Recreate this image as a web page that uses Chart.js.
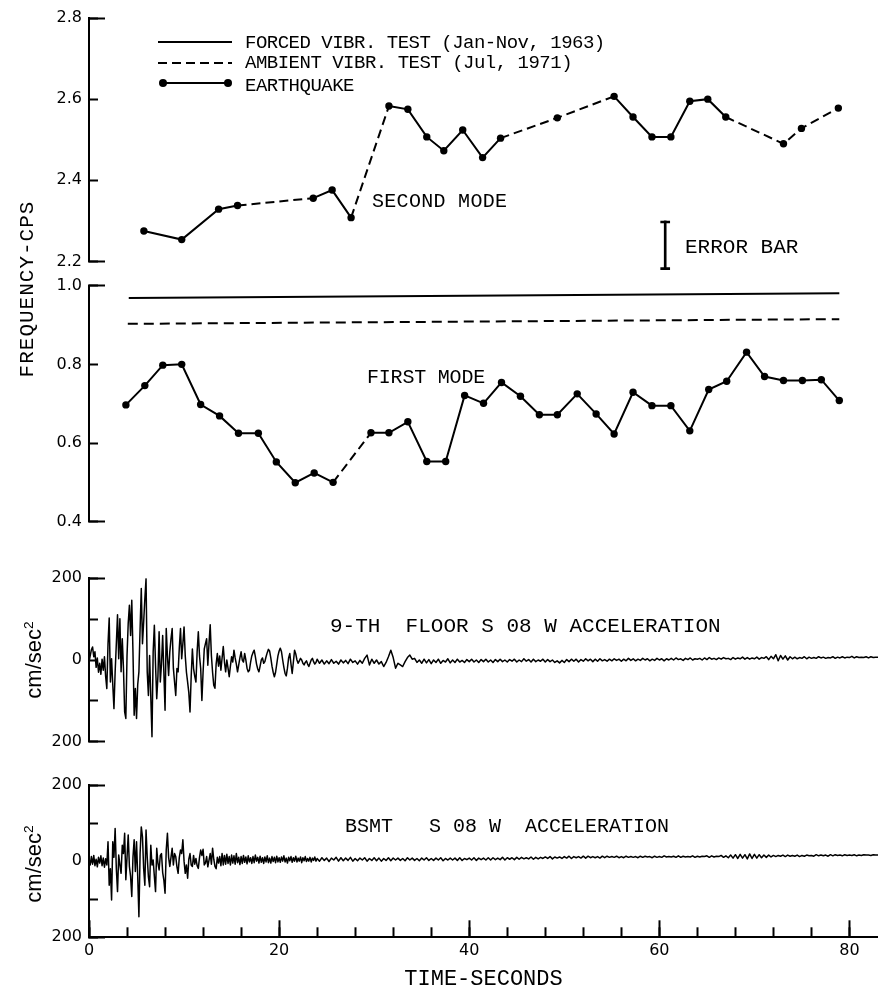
<!DOCTYPE html>
<html><head><meta charset="utf-8">
<script src="https://cdn.jsdelivr.net/npm/chart.js@4.4.1/dist/chart.umd.min.js"></script>
<style>
html,body{margin:0;padding:0;background:#fff;}
#wrap{position:relative;width:878px;height:992px;overflow:hidden;background:#fff;}
canvas{position:absolute;left:0;top:0;}
.t{position:absolute;font-family:'Liberation Mono','DejaVu Sans Mono',monospace;color:#000;white-space:pre;line-height:1;transform:translateY(-50%);}
.r{position:absolute;white-space:pre;line-height:1;color:#000;transform:translate(-50%,-50%) rotate(-90deg);}
.r sup{font-size:0.62em;vertical-align:0.6em;line-height:0;}
.ln{position:absolute;height:2px;background:#000;}
.dot{position:absolute;width:8px;height:8px;border-radius:50%;background:#000;}
</style></head><body>
<div id="wrap">
<canvas id="cU" width="878" height="992"></canvas>
<canvas id="cL" width="878" height="992"></canvas>
<canvas id="cA1" width="878" height="992"></canvas>
<canvas id="cA2" width="878" height="992"></canvas>

<div class="ln" style="left:158px;top:41px;width:74px;"></div>
<div class="ln" style="left:158px;top:62px;width:74px;background:repeating-linear-gradient(to right,#000 0 9px,transparent 9px 14px);"></div>
<div class="ln" style="left:163px;top:82px;width:65px;"></div>
<div class="dot" style="left:159px;top:79px;"></div>
<div class="dot" style="left:224px;top:79px;"></div>
<div class="t" style="left:245px;top:43px;font-size:19px;letter-spacing:-0.5px;">FORCED VIBR. TEST (Jan-Nov, 1963)</div>
<div class="t" style="left:245px;top:63px;font-size:19px;letter-spacing:-0.5px;">AMBIENT VIBR. TEST (Jul, 1971)</div>
<div class="t" style="left:245px;top:86px;font-size:19px;letter-spacing:-0.5px;">EARTHQUAKE</div>
<div class="t" style="left:372px;top:202px;font-size:20px;letter-spacing:0.3px;">SECOND MODE</div>
<div class="t" style="left:685px;top:247px;font-size:21px;">ERROR BAR</div>
<div class="t" style="left:367px;top:378px;font-size:20px;letter-spacing:-0.2px;">FIRST MODE</div>
<div class="t" style="left:330px;top:626px;font-size:21px;">9-TH  FLOOR S 08 W ACCELERATION</div>
<div class="t" style="left:345px;top:827px;font-size:20px;">BSMT   S 08 W  ACCELERATION</div>
<div class="r" style="left:27px;top:289px;font-size:21px;letter-spacing:1px;font-family:'Liberation Mono','DejaVu Sans Mono',monospace;">FREQUENCY-CPS</div>
<div class="r" style="left:34px;top:660px;font-size:22px;font-family:'Liberation Sans',Arial,sans-serif;">cm/sec<sup>2</sup></div>
<div class="r" style="left:34px;top:864px;font-size:22px;font-family:'Liberation Sans',Arial,sans-serif;">cm/sec<sup>2</sup></div>
</div>
<script>
// ---------------- DATA ----------------
const secondModeTime = [5.8,9.8,13.7,15.7,23.7,25.7,27.7,31.7,33.7,35.7,37.5,39.5,41.6,43.5,49.5,55.5,57.5,59.5,61.5,63.5,65.4,67.3,73.4,75.3,79.2];
const secondModeFreq = [2.275,2.254,2.329,2.338,2.356,2.376,2.308,2.583,2.575,2.507,2.473,2.524,2.456,2.504,2.554,2.607,2.556,2.507,2.507,2.595,2.600,2.556,2.490,2.528,2.578];
const secondModeDashedAfter = [3,6,13,14,21,22,23];

const firstModeTime = [3.9,5.9,7.8,9.8,11.8,13.8,15.8,17.9,19.8,21.8,23.8,25.8,29.8,31.7,33.7,35.7,37.7,39.7,41.7,43.6,45.6,47.6,49.5,51.6,53.6,55.5,57.5,59.5,61.5,63.5,65.5,67.4,69.5,71.4,73.4,75.4,77.4,79.3];
const firstModeFreq = [0.697,0.746,0.798,0.800,0.698,0.669,0.625,0.625,0.552,0.499,0.524,0.500,0.626,0.626,0.654,0.553,0.553,0.721,0.701,0.754,0.719,0.672,0.672,0.725,0.674,0.623,0.729,0.695,0.695,0.631,0.736,0.757,0.831,0.769,0.759,0.759,0.761,0.708];
const firstModeDashedAfter = [11];

const forcedVibrTime = [4.2, 79.3];
const forcedVibrFreq = [0.969, 0.981];
const ambientVibrTime = [4.1, 79.3];
const ambientVibrFreq = [0.903, 0.915];

const errorBarTime = [60.9];
const errorBarRange = [[2.18, 2.30]];

const freqUpperTicks = [2.2, 2.4, 2.6, 2.8];
const freqLowerTicks = [0.4, 0.6, 0.8, 1.0];
const accTicks = [-200, -100, 0, 100, 200];
const accLabelled = [-200, 0, 200];
const timeTicks = [0,4,8,12,16,20,24,28,32,36,40,44,48,52,56,60,64,68,72,76,80];
const timeLabels = [0, 20, 40, 60, 80];

// acceleration records: early part sampled every 0.125 s from t = 0, late part every 0.25 s from t = 24.25
const EARLY_STEP = 0.125, LATE_START = 24.25, LATE_STEP = 0.25;
const floor9Early = [
-5,10,25,32,8,20,-18,5,
-30,-8,-35,2,-25,8,-40,-70,
40,103,-54,3,-60,-119,-29,40,
111,3,101,-29,52,-20,-127,-143,
11,90,134,60,146,20,-135,-70,
-143,-60,-29,77,175,40,93,150,
199,-29,-87,11,-90,-188,20,85,
-13,-95,-40,69,-54,-10,60,-30,
-123,77,10,-38,20,52,77,-20,
-54,-87,-21,-29,30,77,3,40,
81,10,-30,-54,-80,-127,-40,27,
-21,-40,-54,20,69,10,-21,-99,
-30,27,40,52,-13,40,86,11,
-30,-62,-69,-10,16,-15,10,-25,
5,33,-5,-29,0,-20,-41,-15,
8,-5,24,5,-10,-29,-12,5,
20,0,-5,16,0,-20,-29,-25,
-5,10,18,24,8,-10,-22,-29,
-15,0,5,-8,-4,8,18,26,
22,5,-15,-30,-41,-30,-10,10,
22,29,20,0,-18,-33,-39,-20,
5,16,-10,-33,-5,24,15,0,
-8,-2,4,0,-8,-12,-6,-2,
-10,-16,-8,0,4,-4,-10,-6,
2];
const floor9Late = [
-8,0,-10,-2, -9,1,-8,-3, -10,0,-7,-1, -9,2,-6,-2, -10,-1,-8,4,
12,-12,2,-8, 0,-10,-4,-16, -6,8,24,6, -20,-8,-12,-16, -4,6,12,2,
4,-6,0,-8, 2,-7,1,-9, 0,-6,2,-8, -1,-5,3,-7, 0,-6,2,-5,
-1,-6,1,-4, 2,-5,0,-6, 1,-4,2,-5, 0,-6,1,-4, 2,-4,0,-5,
1,-3,2,-5, 0,-4,3,-3, 1,-5,2,-4, 0,-3,2,-5, 1,-4,0,-6,
-2,-7,-1,-6, 1,-4,2,-3, 2,-5,1,-3, 3,-2,2,-4, 2,-3,3,-2,
1,-3,2,-2, 3,-1,2,-3, 2,-2,4,-1, 3,-2,2,-1, 4,0,3,-2,
2,-1,4,0, 3,-2,3,0, 4,0,5,1, 3,-1,4,1, 5,0,3,2,
4,0,5,1, 6,2,4,1, 5,2,6,3, 4,1,6,2, 5,3,7,2,
6,2,5,3, 7,2,6,4, 8,1,9,3, 13,-2,11,2, 10,0,8,3,
7,3,6,4, 8,3,7,4, 6,4,8,5, 7,4,6,5, 8,4,7,5,
8,5,7,6, 9,5,8,6, 7,6,8,5, 8,6,7,7];
const bsmtEarly = [
3,-10,12,-8,15,-12,5,-15,
10,-5,14,-12,8,-16,6,-10,
51,-63,-20,-102,51,10,86,-20,
-80,16,-10,-32,42,20,73,-49,
10,69,-14,-40,-93,10,56,-27,
51,-40,-146,20,90,64,-20,-63,
82,10,-41,-67,42,-10,3,-40,
-80,34,-5,-23,15,20,-30,-50,
-84,30,73,10,-14,10,34,-10,
20,12,-15,-32,10,29,20,56,
0,-32,-10,-45,5,20,-10,-14,
15,-8,7,-12,-19,10,29,15,
31,-10,-5,12,-15,3,20,-8,
34,5,-14,-20,10,-5,12,-12,
20,-10,15,-8,18,-6,12,-10,
16,-5,14,-8,20,-4,10,-9,
12,-6,15,-3,11,-7,14,-2,
9,-6,12,-4,16,0,10,-5,
13,-3,9,-6,11,-2,14,-4,
8,-5,12,-1,10,-4,13,-2,
9,-3,11,0,14,-2,8,-5,
10,1,12,-3,9,0,13,-2,
8,0,11,-4,9,1,12,-1,
7,0,10,-2,8,2,11,0,
7];
const bsmtLate = [
0,9,2,8, -1,8,3,10, 0,9,1,8, 2,10,0,7, 1,8,3,9,
0,7,2,9, 1,8,0,7, 2,9,1,8, 3,8,2,7, 1,9,3,8,
2,7,1,8, 3,9,2,7, 2,8,3,9, 1,7,3,8, 3,8,2,9,
2,7,4,8, 3,9,2,8, 4,8,3,9, 3,9,4,8, 4,10,3,9,
5,9,4,10, 5,10,6,9, 6,11,5,10, 6,10,7,11, 7,12,6,11,
8,11,7,12, 8,13,7,12, 9,12,8,13, 8,13,9,12, 9,12,8,13,
9,13,10,12, 10,13,9,12, 9,13,10,12, 10,12,9,13, 10,13,11,12,
9,13,10,12, 10,14,11,12, 11,13,10,14, 10,13,11,12, 11,14,10,13,
11,13,12,14, 10,14,11,13, 12,15,10,14, 9,16,8,17, 7,18,8,17,
6,19,7,18, 8,17,9,16, 10,16,11,15, 12,15,13,16, 12,16,13,15,
13,16,12,15, 13,16,14,15, 13,17,14,16, 14,16,13,17, 14,17,15,16,
14,17,15,16, 15,17,14,16, 15,17,16,16, 15,17,16,16];

// ---------------- CHARTS ----------------
const MONO = "'Liberation Mono','DejaVu Sans Mono',monospace";
const TICKFONT = "'DejaVu Sans','Liberation Sans',sans-serif";
Chart.defaults.font.family = MONO;
Chart.defaults.color = '#000';
const H = 992, AXIS_W = 89, X_MIN = 0, X_MAX = 83;

function series(times, values) { return times.map((t, i) => ({x: t, y: values[i]})); }
function trace(early, late) {
  const pts = early.map((v, i) => ({x: i * EARLY_STEP, y: v}));
  late.forEach((v, i) => pts.push({x: LATE_START + i * LATE_STEP, y: v}));
  return pts;
}
function hiddenX() { return {type: 'linear', min: X_MIN, max: X_MAX, display: false, offset: false, grid: {offset: false}}; }
function yMain(min, max, ticks, fmt) {
  return {
    type: 'linear', position: 'left', weight: 1, min, max,
    afterBuildTicks: s => { s.ticks = ticks.map(v => ({value: v})); },
    afterFit: s => { s.width = AXIS_W; s.paddingTop = 8; s.paddingBottom = 8; },
    ticks: {autoSkip: false, padding: 16, color: '#000', font: {family: TICKFONT, size: 16}, callback: fmt},
    grid: {drawOnChartArea: false, drawTicks: true, tickLength: -9, tickWidth: 2, tickColor: '#000'},
    border: {display: true, width: 2, color: '#000'}
  };
}
function yEnds(min, max) {
  return {
    type: 'linear', position: 'left', weight: 0, min, max,
    afterBuildTicks: s => { s.ticks = [{value: min}, {value: max}]; },
    afterFit: s => { s.width = 0; s.paddingTop = 0; s.paddingBottom = 0; },
    ticks: {display: false},
    grid: {drawOnChartArea: false, drawTicks: true, tickLength: -16, tickWidth: 2, tickColor: '#000'},
    border: {display: false}
  };
}
function opts(top, bottom, scales) {
  return {
    responsive: false, animation: false, devicePixelRatio: 1, events: [],
    layout: {padding: {top: top, bottom: H - bottom, left: 0, right: 0}},
    plugins: {legend: {display: false}, tooltip: {enabled: false}},
    scales
  };
}
const freqFmt = v => Number(v).toFixed(1);
const accFmt = v => accLabelled.includes(v) ? String(Math.abs(v)) : '';
const dots = {borderColor: '#000', borderWidth: 2, pointRadius: 3.7, pointBackgroundColor: '#000', pointBorderWidth: 0, pointHoverRadius: 3.7, xAxisID: 'x', yAxisID: 'y'};

// upper frequency panel (second mode)
const errData = errorBarTime.map((t, i) => ({x: t, y: errorBarRange[i]}));
new Chart(document.getElementById('cU'), {
  type: 'line',
  data: {datasets: [
    Object.assign({label: 'EARTHQUAKE second mode', data: series(secondModeTime, secondModeFreq),
      segment: {borderDash: c => secondModeDashedAfter.includes(c.p0DataIndex) ? [9, 5] : undefined}}, dots),
    {type: 'bar', label: 'ERROR BAR', data: errData, backgroundColor: '#000', borderWidth: 0, barThickness: 2, grouped: false, clip: false, xAxisID: 'x', yAxisID: 'y'},
    {type: 'bar', label: 'ERROR BAR caps', data: errData, backgroundColor: 'rgba(0,0,0,0)', borderColor: '#000',
      borderWidth: {top: 2, bottom: 2, left: 0, right: 0}, borderSkipped: false, barThickness: 10, grouped: false, clip: false, xAxisID: 'x', yAxisID: 'y'}
  ]},
  options: opts(18, 261.5, {y: yMain(2.2, 2.8, freqUpperTicks, freqFmt), yE: yEnds(2.2, 2.8), x: hiddenX()})
});

// lower frequency panel (first mode)
new Chart(document.getElementById('cL'), {
  type: 'line',
  data: {datasets: [
    {label: 'FORCED VIBR. TEST (Jan-Nov, 1963)', data: series(forcedVibrTime, forcedVibrFreq), borderColor: '#000', borderWidth: 2, pointRadius: 0, xAxisID: 'x', yAxisID: 'y'},
    {label: 'AMBIENT VIBR. TEST (Jul, 1971)', data: series(ambientVibrTime, ambientVibrFreq), borderColor: '#000', borderWidth: 2, borderDash: [10, 6], pointRadius: 0, xAxisID: 'x', yAxisID: 'y'},
    Object.assign({label: 'EARTHQUAKE first mode', data: series(firstModeTime, firstModeFreq),
      segment: {borderDash: c => firstModeDashedAfter.includes(c.p0DataIndex) ? [9, 5] : undefined}}, dots)
  ]},
  options: opts(285.7, 521.7, {y: yMain(0.4, 1.0, freqLowerTicks, freqFmt), yE: yEnds(0.4, 1.0), x: hiddenX()})
});

// 9th floor acceleration
new Chart(document.getElementById('cA1'), {
  type: 'line',
  data: {datasets: [
    {label: '9-TH FLOOR S 08 W ACCELERATION', data: trace(floor9Early, floor9Late), borderColor: '#000', borderWidth: 1.5, borderJoinStyle: 'round', pointRadius: 0, tension: 0, xAxisID: 'x', yAxisID: 'y'}
  ]},
  options: opts(578.3, 741.7, {y: yMain(-200, 200, accTicks, accFmt), yE: yEnds(-200, 200), x: hiddenX()})
});

// basement acceleration with time axis
new Chart(document.getElementById('cA2'), {
  type: 'line',
  data: {datasets: [
    {label: 'BSMT S 08 W ACCELERATION', data: trace(bsmtEarly, bsmtLate), borderColor: '#000', borderWidth: 1.5, borderJoinStyle: 'round', pointRadius: 0, tension: 0, xAxisID: 'x', yAxisID: 'y'}
  ]},
  options: opts(785, H, {
    y: yMain(-200, 200, accTicks, accFmt),
    yE: yEnds(-200, 200),
    x: {
      type: 'linear', position: 'bottom', weight: 1, min: X_MIN, max: X_MAX, offset: false,
      afterBuildTicks: s => { s.ticks = timeTicks.map(v => ({value: v})); },
      afterFit: s => { s.height = H - 937.3; },
      ticks: {autoSkip: false, maxRotation: 0, padding: 14, color: '#000', font: {family: TICKFONT, size: 16},
        callback: v => timeLabels.includes(v) ? String(v) : ''},
      grid: {drawOnChartArea: false, drawTicks: true, tickLength: -10, tickWidth: 2, tickColor: '#000'},
      border: {display: true, width: 2, color: '#000'},
      title: {display: true, text: 'TIME-SECONDS', color: '#000', font: {family: MONO, size: 22}, padding: {top: 0, bottom: 0}}
    },
    xM: {
      type: 'linear', position: 'bottom', weight: 0, min: X_MIN, max: X_MAX, offset: false,
      afterBuildTicks: s => { s.ticks = timeLabels.map(v => ({value: v})); },
      afterFit: s => { s.height = 0; },
      ticks: {display: false},
      grid: {drawOnChartArea: false, drawTicks: true, tickLength: -17, tickWidth: 2, tickColor: '#000'},
      border: {display: false}
    }
  })
});
</script>
</body></html>
